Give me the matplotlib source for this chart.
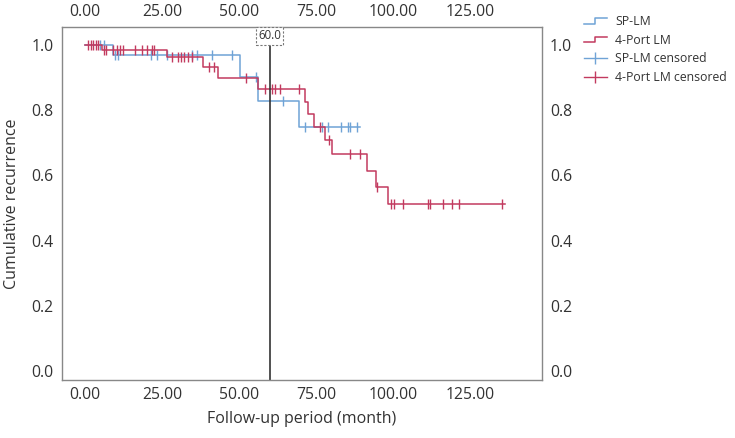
import numpy as np
import matplotlib
matplotlib.use("Agg")
import matplotlib.pyplot as plt
from matplotlib.lines import Line2D
from matplotlib.legend_handler import HandlerBase
from matplotlib.ticker import FormatStrFormatter

plt.rcParams['font.family'] = ['Open Sans', 'DejaVu Sans']

# ---- data ----
red_times = [0, 5.6, 26.5, 38.4, 43.3, 56.3, 71.4, 72.5, 74.5, 78.1, 80.3, 91.5, 94.5, 98.5]
red_surv = [1.0, 0.985, 0.964, 0.933, 0.900, 0.865, 0.826, 0.787, 0.748, 0.709, 0.666, 0.614, 0.565, 0.511]
red_end = 136.4
red_cens = [1.1, 1.8, 2.7, 3.5, 4.1, 6.0, 6.7, 9.2, 10.3, 11.4, 12.4, 16.2, 18.4, 20.0, 21.6,
            22.5, 28.3, 30.3, 31.2, 32.1, 33.3, 34.6, 40.4, 41.9, 52.2, 58.4, 60.6, 61.7,
            63.3, 69.5, 76.3, 79.2, 86.2, 89.3, 95.0, 99.4, 100.4, 103.3, 111.4, 112.2,
            116.3, 119.2, 121.4, 135.6]

blue_times = [0, 9.2, 50.5, 56.3, 69.6]
blue_surv = [1.0, 0.969, 0.901, 0.829, 0.748]
blue_end = 89.3
blue_cens = [5.0, 6.0, 9.8, 10.6, 21.3, 23.3, 26.7, 34.6, 36.3, 41.4, 47.6, 55.5, 64.4,
             71.4, 77.0, 79.0, 83.3, 85.3, 86.0, 88.4]

ref_line = 60.0
x_ticks = [0, 25, 50, 75, 100, 125]
y_ticks = [0.0, 0.2, 0.4, 0.6, 0.8, 1.0]
labels = ["SP-LM", "4-Port LM", "SP-LM censored", "4-Port LM censored"]

BLUE = "#6fa3d6"
RED = "#c23a5f"


def step_value(times, surv, t):
    idx = np.searchsorted(times, t, side='right') - 1
    return np.asarray(surv)[idx]


fig = plt.figure(figsize=(7.35, 4.38), dpi=100)
ax = fig.add_axes([0.0844, 0.1324, 0.6526, 0.8056])

for times, surv, end, cens, col in [
        (blue_times, blue_surv, blue_end, blue_cens, BLUE),
        (red_times, red_surv, red_end, red_cens, RED)]:
    xs = list(times) + [end]
    ys = list(surv) + [surv[-1]]
    ax.step(xs, ys, where='post', color=col, lw=1.1)
    cy = step_value(times, surv, cens)
    ax.plot(cens, cy, ls='none', marker='|', ms=6.5, mew=1.0, color=col)

ax.axvline(ref_line, color='#333333', lw=1.2)
ax.text(ref_line, 0.975, f"{ref_line:.1f}", transform=ax.get_xaxis_transform(),
        ha='center', va='center', fontsize=8.3, color='#333333',
        bbox=dict(boxstyle='square,pad=0.2', fc='white', ec='#777777', ls=(0, (2, 1.5)), lw=0.8))

ax.set_xlim(-7.5, 148.4)
ax.set_ylim(-0.028, 1.055)
ax.set_xticks(x_ticks)
ax.set_yticks(y_ticks)
ax.xaxis.set_major_formatter(FormatStrFormatter('%.2f'))
ax.yaxis.set_major_formatter(FormatStrFormatter('%.1f'))
ax.tick_params(axis='both', length=0, labelsize=11.3, colors='#333333')
ax.tick_params(axis='x', labeltop=True, pad=5)
ax.tick_params(axis='y', labelright=True, pad=6)
for s in ax.spines.values():
    s.set_color('#888888')
    s.set_linewidth(1.0)

ax.set_xlabel("Follow-up period (month)", fontsize=11.5, color='#333333', labelpad=6)
ax.set_ylabel("Cumulative recurrence", fontsize=11.5, color='#333333', labelpad=8)


class StepHandler(HandlerBase):
    def create_artists(self, legend, orig_handle, xdescent, ydescent, width, height, fontsize, trans):
        x0 = -xdescent
        y0 = -ydescent
        xs = [x0, x0 + width * 0.5, x0 + width * 0.5, x0 + width]
        ys = [y0 + height * 0.2, y0 + height * 0.2, y0 + height * 0.85, y0 + height * 0.85]
        ln = Line2D(xs, ys, color=orig_handle.get_color(), lw=1.1, transform=trans)
        return [ln]


h1 = Line2D([], [], color=BLUE)
h2 = Line2D([], [], color=RED)
h3 = Line2D([], [], color=BLUE, lw=1.0, marker='|', ms=9, mew=1.0)
h4 = Line2D([], [], color=RED, lw=1.0, marker='|', ms=9, mew=1.0)
fig.legend([h1, h2, h3, h4], labels, loc='upper left', bbox_to_anchor=(0.779, 0.99),
           frameon=False, fontsize=8.8, labelspacing=0.45, handlelength=1.9, handletextpad=0.7,
           handler_map={h1: StepHandler(), h2: StepHandler()}, labelcolor='#333333')

fig.savefig("out.png", dpi=100)
